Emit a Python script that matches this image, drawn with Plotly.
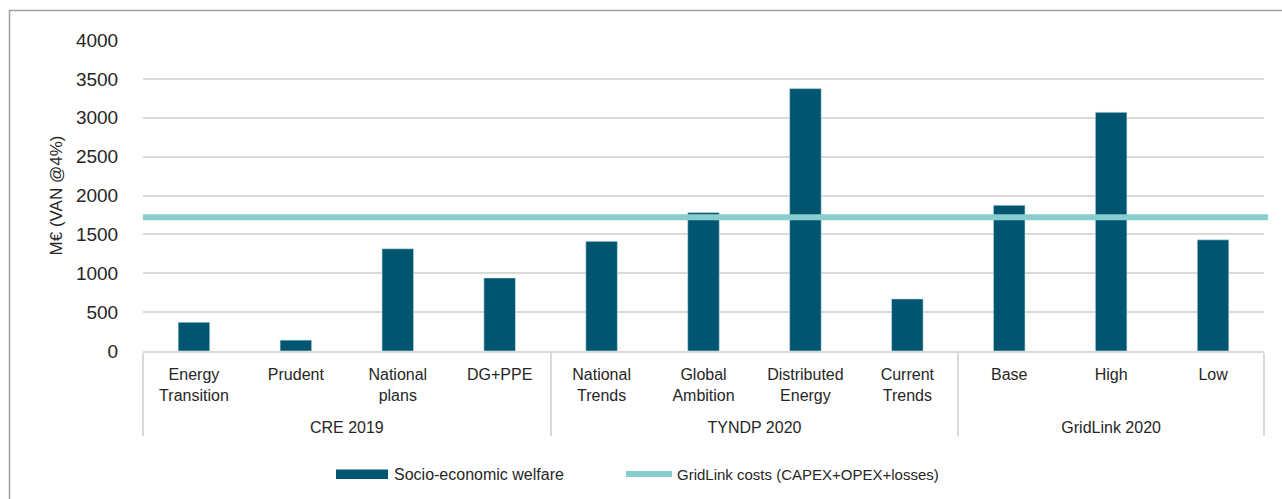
import plotly.graph_objects as go

groups = ["CRE 2019"] * 4 + ["TYNDP 2020"] * 4 + ["GridLink 2020"] * 3
scenarios = ["Energy<br>Transition<br>\u00a0", "Prudent", "National<br>plans", "DG+PPE",
             "National<br>Trends", "Global<br>Ambition", "Distributed<br>Energy", "Current<br>Trends",
             "Base", "High", "Low"]
welfare = [370, 140, 1315, 940, 1410, 1780, 3375, 670, 1875, 3070, 1430]
gridlink_cost = 1720

bar_name = "Socio-economic welfare"
line_name = "GridLink costs (CAPEX+OPEX+losses)"
ytick_vals = [0, 500, 1000, 1500, 2000, 2500, 3000, 3500, 4000]

BAR_COLOR = "#005670"
LINE_COLOR = "#89CDCE"
GRID = "#D9D9D9"
FONT = "Liberation Sans"

# plot area in pixels: x 143..1264, y 40..351
W, H = 1282, 499
L, R, T, B = 143, 1264, 40, 351
def px(x):
    return (x - L) / (R - L)
def py(y):
    return (B - y) / (B - T)

fig = go.Figure()
fig.add_trace(go.Bar(
    x=[groups, scenarios], y=welfare, name=bar_name,
    marker=dict(color=BAR_COLOR, line=dict(color="#CFE6EA", width=0.6)),
    width=0.31, showlegend=False,
))

shapes = [
    # cost line
    dict(type="line", xref="paper", yref="y", x0=0, x1=px(1268), y0=gridlink_cost, y1=gridlink_cost,
         line=dict(color=LINE_COLOR, width=6), layer="above"),
    # outer frame (only top/left visible)
    dict(type="rect", xref="paper", yref="paper", x0=px(9.5), x1=2, y0=-2, y1=py(10.5),
         line=dict(color="#A0A0A0", width=1.5), layer="below"),
    # legend swatches
    dict(type="rect", xref="paper", yref="paper", x0=px(336), x1=px(388), y0=py(479), y1=py(469.5),
         fillcolor=BAR_COLOR, line=dict(width=0)),
    dict(type="line", xref="paper", yref="paper", x0=px(626), x1=px(672), y0=py(474), y1=py(474),
         line=dict(color=LINE_COLOR, width=6)),
]

annotations = [
    dict(xref="paper", yref="paper", x=px(392), y=py(474), text=bar_name, showarrow=False,
         xanchor="left", yanchor="middle", font=dict(family=FONT, size=16, color="#262626")),
    dict(xref="paper", yref="paper", x=px(675), y=py(474), text=line_name, showarrow=False,
         xanchor="left", yanchor="middle", font=dict(family=FONT, size=15, color="#262626")),
]

fig.update_layout(
    width=W, height=H,
    margin=dict(l=L, r=W - R, t=T, b=H - B, pad=0),
    paper_bgcolor="white", plot_bgcolor="white",
    font=dict(family=FONT, color="#262626"),
    bargap=0.69,
    shapes=shapes, annotations=annotations,
    showlegend=False,
    xaxis=dict(
        type="multicategory", range=[-0.5, 10.5],
        showline=True, linecolor=GRID, linewidth=1.5,
        showdividers=True, dividercolor=GRID, dividerwidth=1.5,
        tickfont=dict(family=FONT, size=16, color="#262626"),
        ticks="", ticklabelstandoff=8, showgrid=False,
    ),
    yaxis=dict(
        range=[0, 4000], tickvals=ytick_vals, showgrid=True, gridcolor=GRID, gridwidth=1.5,
        zeroline=False, showline=False, ticks="outside", ticklen=20, tickcolor="rgba(0,0,0,0)",
        tickfont=dict(family=FONT, size=19, color="#262626"),
        title=dict(text="M€ (VAN @4%)", font=dict(family=FONT, size=17, color="#262626"), standoff=8),
    ),
)

fig.write_html("out.html")
